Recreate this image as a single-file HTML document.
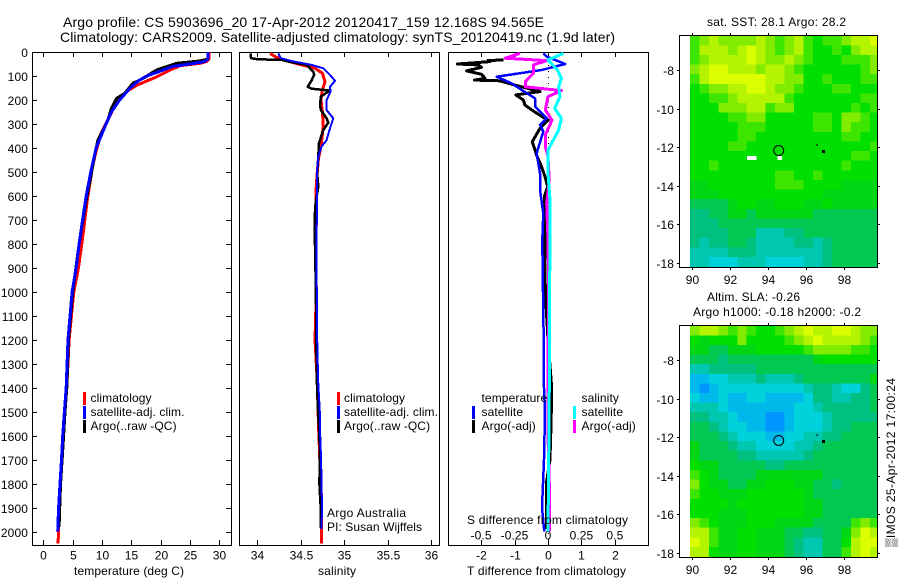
<!DOCTYPE html>
<html>
<head>
<meta charset="utf-8">
<title>Argo profile</title>
<style>
html,body{margin:0;padding:0;background:#fff;}
svg{display:block;}
text{font-family:"Liberation Sans",sans-serif;font-size:12px;fill:#000;}
.t14{font-size:14px;}
</style>
</head>
<body>
<svg id="chart" width="900" height="580" viewBox="0 0 900 580" xmlns="http://www.w3.org/2000/svg">
<rect x="0" y="0" width="900" height="580" fill="#fff"/>
<text class="t14" x="63" y="27" textLength="481" lengthAdjust="spacing">Argo profile: CS 5903696_20 17-Apr-2012 20120417_159 12.168S 94.565E</text>
<text class="t14" x="60" y="42" textLength="555" lengthAdjust="spacing">Climatology: CARS2009. Satellite-adjusted climatology: synTS_20120419.nc (1.9d later)</text>
<g id="plots"></g>
<text x="74" y="575" textLength="110" lengthAdjust="spacing">temperature (deg C)</text>
<text x="318" y="575" textLength="38" lengthAdjust="spacing">salinity</text>
<text x="467" y="575" textLength="159" lengthAdjust="spacing">T difference from climatology</text>
<text x="467" y="524" textLength="161" lengthAdjust="spacing">S difference from climatology</text>
<text x="327" y="517" textLength="79" lengthAdjust="spacing">Argo Australia</text>
<text x="327" y="531" textLength="95" lengthAdjust="spacing">PI: Susan Wijffels</text>
<text x="707" y="26" textLength="139" lengthAdjust="spacing">sat. SST: 28.1 Argo: 28.2</text>
<text x="707" y="301" textLength="93" lengthAdjust="spacing">Altim. SLA: -0.26</text>
<text x="693" y="316" textLength="168" lengthAdjust="spacing">Argo h1000: -0.18 h2000: -0.2</text>
<text transform="translate(895,547) rotate(-90)" x="0" y="0" textLength="169" lengthAdjust="spacing">▒IMOS 25-Apr-2012 17:00:24</text>
</svg>
<script>
// ---- profile data ----
const depthTicks = [0,100,200,300,400,500,600,700,800,900,1000,1100,1200,1300,1400,1500,1600,1700,1800,1900,2000];
const tempTicks = [0,5,10,15,20,25,30];
const salTicks = [34,34.5,35,35.5,36];
const salTickLabels = ['34','34.5','35','35.5','36'];
const tDiffTicks = [-2,-1,0,1,2];
const sDiffTicks = [-0.5,-0.25,0,0.25,0.5];
const sDiffTickLabels = ['-0.5','-0.25','0','0.25','0.5'];

const tempClimDepth = [0,30,40,47,57,75,104,139,160,197,253,337,405,475,617,756,900,1000,1200,1400,1500,1600,1700,1800,1900,2000,2050];
const tempClim = [28.2,28.2,27.8,26.7,23.3,21.6,19.3,15.9,14.5,12.7,11.6,9.9,9.1,8.4,7.5,6.8,6,5.2,4.4,4.0,3.7,3.4,3.2,2.95,2.75,2.6,2.5];
const tempArgoDepth = [0,30,38,47,75,110,130,150,172,193,235,284,325,367,436,520,617,800,1000,1200,1400,1500,1600,1700,1800,1860,1980];
const tempArgo = [28.1,28,26.5,22.7,19.3,17,15.3,14.6,13.9,12.5,11.6,11,10.2,9.3,8.7,8.1,7.3,6.1,5,4.3,4,3.7,3.45,3.2,2.95,2.85,2.7];
const tempSatDepth = [0,30,40,50,60,80,100,120,150,200,250,300,400,500,600,700,800,900,1000,1200,1400,1500,1600,1700,1800,1900,2000];
const tempSat = [28.1,28,27.5,25,22,19.9,17.6,16.2,14.8,13,11.6,10.7,9,8.1,7.3,6.7,6.1,5.6,4.9,4.2,3.9,3.6,3.3,3.1,2.85,2.6,2.45];

const salClimDepth = [6,19,31,50,68,89,124,158,200,249,311,395,450,520,589,672,784,1000,1200,1368,1500,1600,1700,1800,1900,2000,2050];
const salClim = [34.147,34.205,34.28,34.472,34.664,34.75,34.78,34.75,34.733,34.75,34.76,34.733,34.703,34.687,34.675,34.683,34.675,34.68,34.665,34.69,34.7,34.71,34.72,34.735,34.74,34.74,34.74];
const salArgoDepth = [6,20,26,30,33,33,40,54,82,96,124,145,153,161,186,221,242,277,295,325,381,436,506,561,631,673,784,1000,1200,1368,1500,1600,1700,1800,1900,1985];
const salArgo = [33.923,33.923,33.93,34,34.25,34.28,34.36,34.57,34.645,34.656,34.618,34.58,34.625,34.837,34.733,34.722,34.733,34.798,34.818,34.76,34.71,34.703,34.69,34.703,34.672,34.664,34.664,34.675,34.68,34.685,34.7,34.715,34.72,34.715,34.73,34.73];
const salSatDepth = [6,26,38,54,68,96,120,145,165,200,242,277,318,367,395,436,506,645,784,1000,1200,1368,1500,1600,1700,1800,1900,1990];
const salSat = [34.242,34.272,34.395,34.626,34.76,34.837,34.895,34.837,34.845,34.798,34.798,34.875,34.837,34.798,34.74,34.703,34.687,34.69,34.68,34.685,34.69,34.7,34.72,34.725,34.735,34.74,34.745,34.74];

const tDiffArgoDepth = [33,36,40,50,54,64,79,93,110,117,120,138,165,172,179,200,221,246,277,284,318,374,430,478,520,561,603,645,784,1000,1200,1400,1500,1600,1700,1800,1900,1990];
const tDiffArgo = [-1.33,-1.8,-1.73,-2.71,-2.09,-1.99,-2.43,-1.99,-1.88,-2.2,-1.44,-0.99,-0.24,-0.6,-0.96,-0.74,-0.69,-0.44,-0.09,0.01,-0.24,-0.47,-0.34,-0.19,-0.09,-0.01,-0.11,-0.09,-0.09,-0.08,0,0.11,0.1,0.08,0.06,-0.05,-0.05,-0.05];
const tDiffSatDepth = [6,19,50,75,103,131,158,193,228,277,304,332,423,506,575,673,784,1000,1200,1400,1500,1700,1800,1900,2000];
const tDiffSat = [-0.14,-0.04,0.51,-0.19,-1.53,-1.09,-0.79,-0.39,-0.39,-0.04,-0.24,-0.14,-0.34,-0.24,-0.24,-0.14,-0.17,-0.15,-0.13,-0.12,-0.09,-0.12,-0.15,-0.18,-0.11];
const sDiffArgoDepth = [6,26,36,54,89,124,145,161,186,242,284,346,395,436,534,631,784,1000,1300,1600,1800,2000];
const sDiffArgo = [-0.21,-0.32,-0.01,-0.11,-0.11,-0.17,-0.17,0.1,0,-0.02,0.03,-0.02,-0.02,0,0.01,-0.01,0,0.005,0,0,0.01,0.01];
const sDiffSatDepth = [6,33,75,110,145,186,235,277,325,409,506,617,784,1000,1400,1700,2000];
const sDiffSat = [0.115,0,0.07,0.1,0.08,0.09,0.05,0.1,0.08,0,0,0.015,0.015,0.012,0.01,0.005,0];

// ---- map data: levels on a shared colour scale, -2 = blue ... 9 = yellow ----
const sstGrid = [
[6,7,8,7,7,7,7,8,7,6,7,8,6,5,6,6,7,8,8,9],
[6,8,8,8,7,8,9,8,7,6,7,8,6,5,5,6,5,7,8,8],
[6,7,8,8,8,8,9,8,7,7,8,7,6,5,5,5,6,6,6,7],
[7,8,9,9,8,8,8,7,8,8,7,6,5,5,5,5,5,5,6,7],
[6,8,9,9,9,9,9,9,8,8,7,7,5,5,6,5,5,5,6,6],
[5,6,7,7,8,8,9,9,8,7,7,6,5,5,5,6,6,5,5,5],
[5,5,6,6,7,8,8,8,8,8,6,5,5,5,5,5,5,5,6,6],
[5,5,5,7,7,7,8,8,6,7,7,5,5,5,5,5,5,6,5,6],
[5,5,5,5,6,6,7,7,5,5,5,5,5,6,6,5,7,7,6,5],
[5,5,5,5,5,6,6,6,5,5,5,5,5,6,6,5,7,6,6,5],
[5,5,5,5,5,6,6,5,5,5,5,5,5,5,5,5,6,6,5,5],
[5,5,5,5,6,6,5,5,5,5,5,5,5,5,5,5,5,5,5,6],
[5,5,5,5,5,5,5,5,5,5,5,5,5,5,5,5,5,6,6,5],
[5,5,6,5,5,5,5,5,5,5,5,5,5,5,5,5,6,5,5,5],
[5,5,5,5,5,5,5,5,5,6,6,5,5,6,5,5,5,5,5,5],
[4,4,5,5,5,5,5,5,5,6,6,6,5,5,5,5,4,4,4,4],
[4,4,4,5,5,5,5,5,5,5,5,5,5,5,4,4,4,4,4,4],
[3,3,3,3,4,5,5,4,4,5,5,5,4,4,5,4,4,4,4,4],
[2,2,3,3,4,4,3,4,4,4,4,4,4,3,3,3,3,3,3,3],
[2,2,2,3,3,3,3,3,3,3,3,3,3,3,3,3,3,3,3,3],
[2,2,2,2,3,3,3,1,1,1,2,2,3,3,3,3,3,3,3,3],
[2,1,2,2,3,3,2,1,1,1,1,2,2,1,2,3,3,3,3,3],
[1,1,1,1,2,2,2,1,1,1,1,1,1,1,2,3,3,3,3,3],
[1,1,0,0,0,1,1,1,0,0,0,0,1,1,2,3,3,3,3,3]
];
const slaGrid = [
[7,8,8,7,6,7,6,5,5,6,7,8,9,8,8,9,9,8,7,7],
[5,4,5,5,5,7,5,5,5,5,6,7,8,9,8,8,8,8,7,6],
[4,4,3,3,4,4,4,5,5,5,5,5,6,7,7,7,7,6,6,5],
[3,3,3,2,3,3,3,3,3,3,3,3,3,4,5,5,5,5,5,5],
[1,1,2,2,2,2,2,3,3,3,3,3,3,3,3,3,3,3,3,3],
[-1,-1,0,0,1,1,1,2,1,1,1,2,3,3,3,3,3,3,3,4],
[-1,-2,-1,0,0,0,0,0,0,0,0,0,1,2,2,1,0,0,2,3],
[0,-1,-1,0,-1,-1,0,0,-1,-1,-1,-1,0,2,2,1,1,2,2,3],
[1,1,1,0,-1,-1,-1,-1,-1,-1,-1,0,0,1,2,2,2,2,2,3],
[2,2,1,1,0,-1,-1,-1,-2,-2,-1,0,0,0,1,2,2,2,2,2],
[3,3,2,1,0,0,-1,-1,-2,-2,-1,0,0,0,1,2,2,3,3,3],
[3,3,3,2,1,0,0,0,-1,-1,0,0,1,1,2,2,3,3,3,3],
[4,3,3,3,2,1,1,0,0,0,0,1,1,2,3,3,3,3,3,3],
[4,3,3,3,3,2,2,1,1,1,1,1,2,3,3,3,3,3,3,3],
[5,4,4,3,3,3,3,3,2,2,3,3,3,3,3,3,3,3,3,3],
[6,5,4,3,3,3,3,4,4,4,4,4,4,4,3,3,3,3,3,3],
[7,5,4,4,3,3,4,4,5,5,5,4,4,3,3,2,3,3,3,3],
[6,5,5,4,4,4,5,5,5,5,5,5,4,3,3,3,3,3,3,3],
[5,5,5,5,4,5,5,5,5,5,5,5,4,4,3,3,3,3,3,3],
[5,5,5,4,4,4,5,5,5,5,5,5,4,4,3,3,3,3,3,3],
[7,6,5,4,4,4,5,5,5,4,4,4,4,3,3,3,3,6,7,6],
[8,8,6,4,4,5,5,4,4,4,3,3,2,2,3,3,4,7,9,8],
[9,8,6,4,4,5,5,4,4,4,3,2,1,1,3,3,5,8,9,9],
[8,8,5,4,4,5,5,4,4,4,3,2,1,1,3,3,6,8,9,8]
];
const lonTicks = [90,92,94,96,98];
const latTicks = [-8,-10,-12,-14,-16,-18];
const argoLon = [94.565];
const argoLat = [-12.168];
const missingLon = [92.9,94.5];
const missingLat = [-12.45,-12.45];
const missingWidthDeg = [0.5,0.25];

const NS = 'http://www.w3.org/2000/svg';
const root = document.getElementById('plots');
function mk(tag, attrs, parent) {
  const el = document.createElementNS(NS, tag);
  for (const k in attrs) el.setAttribute(k, attrs[k]);
  (parent || root).appendChild(el);
  return el;
}
const yDepth = d => 52 + d * 0.2398;

function seg(x1, y1, x2, y2, name, parent) {
  const el = mk('line', {x1: x1, y1: y1, x2: x2, y2: y2, stroke: '#000', 'stroke-width': 1, 'shape-rendering': 'crispEdges'}, parent);
  
  
  return el;
}
function label(x, y, txt, anchor, name) {
  const el = mk('text', {x: x, y: y, 'text-anchor': anchor, 'letter-spacing': '0.1'});
  el.textContent = txt;
  
  
  return el;
}
function frame(x1, y1, x2, y2, name) {
  const el = mk('rect', {x: x1 + 0.5, y: y1 + 0.5, width: x2 - x1, height: y2 - y1, fill: 'none', stroke: '#000', 'stroke-width': 1, 'shape-rendering': 'crispEdges'});
  
  
}
function profile(depths, values, xf, color, width, name) {
  const pts = depths.map((d, i) => xf(values[i]).toFixed(1) + ',' + yDepth(d).toFixed(1)).join(' ');
  const el = mk('polyline', {points: pts, fill: 'none', stroke: color, 'stroke-width': width, 'stroke-linejoin': 'round', 'shape-rendering': 'crispEdges'});
  
  
}
function legendBar(x, y, color, name) {
  const el = mk('rect', {x: x, y: y - 6, width: 3, height: 13, fill: color, 'shape-rendering': 'crispEdges'});
  
  
}

// panel scales
const xTemp = t => 43.3 + t * 5.87;
const xSal = s => 257.3 + (s - 34) * 86.8;
const xTD = t => 548 + t * 33.44;
const xSD = s => 548 + s * 133.8;

frame(32, 52, 231, 545, 'temperature-panel-frame');
frame(239, 52, 439, 545, 'salinity-panel-frame');
frame(448, 52, 648, 545, 'difference-panel-frame');

depthTicks.forEach(d => {
  const y = Math.round(yDepth(d)) + 0.5;
  if (d > 0) {
    seg(32, y, 37, y, 'depth-tick-left');
    seg(226, y, 231, y, 'depth-tick-right');
  }
  label(28, y + 4.5, String(d), 'end', 'depth-tick-label');
});
tempTicks.forEach(t => {
  const x = Math.round(xTemp(t)) + 0.5;
  seg(x, 52, x, 57, 'temperature-tick-top');
  seg(x, 540, x, 545, 'temperature-tick-bottom');
  label(x, 559.5, String(t), 'middle', 'temperature-tick-label');
});
salTicks.forEach((s, i) => {
  const x = Math.round(xSal(s)) + 0.5;
  seg(x, 52, x, 57, 'salinity-tick-top');
  seg(x, 540, x, 545, 'salinity-tick-bottom');
  label(x, 559.5, salTickLabels[i], 'middle', 'salinity-tick-label');
});
tDiffTicks.forEach(t => {
  const x = Math.round(xTD(t)) + 0.5;
  seg(x, 52, x, 57, 'difference-tick-top');
  seg(x, 540, x, 545, 'difference-tick-bottom');
  label(x, 559.5, String(t), 'middle', 't-difference-tick-label');
});
sDiffTicks.forEach((s, i) => {
  label(xSD(s), 539.5, sDiffTickLabels[i], 'middle', 's-difference-tick-label');
});

// zero line
const zeroLine = mk('line', {x1: xTD(0) + 0.5, y1: 53, x2: xTD(0) + 0.5, y2: 544, stroke: '#000', 'stroke-width': 1, 'stroke-dasharray': '1 5', 'shape-rendering': 'crispEdges'});



// series
profile(tempClimDepth, tempClim, xTemp, '#ff0000', 3, 'temperature-climatology-line');
profile(tempArgoDepth, tempArgo, xTemp, '#000000', 3, 'temperature-argo-line');
profile(tempSatDepth, tempSat, xTemp, '#0000ff', 3, 'temperature-satellite-line');

profile(salClimDepth, salClim, xSal, '#ff0000', 3, 'salinity-climatology-line');
profile(salArgoDepth, salArgo, xSal, '#000000', 2.5, 'salinity-argo-line');
profile(salSatDepth, salSat, xSal, '#0000ff', 2, 'salinity-satellite-line');

profile(tDiffArgoDepth, tDiffArgo, xTD, '#000000', 3, 't-difference-argo-line');
profile(tDiffSatDepth, tDiffSat, xTD, '#0000ff', 2.5, 't-difference-satellite-line');
profile(sDiffArgoDepth, sDiffArgo, xSD, '#ff00ff', 3, 's-difference-argo-line');
profile(sDiffSatDepth, sDiffSat, xSD, '#00ffff', 3, 's-difference-satellite-line');

// legends
legendBar(83, 398, '#ff0000', 'legend-climatology-swatch');
legendBar(83, 412, '#0000ff', 'legend-satellite-swatch');
legendBar(83, 426, '#000000', 'legend-argo-swatch');
label(90.5, 402, 'climatology', 'start', 'legend-climatology');
label(90.5, 416, 'satellite-adj. clim.', 'start', 'legend-satellite');
label(90.5, 430, 'Argo(..raw -QC)', 'start', 'legend-argo');

legendBar(337, 398, '#ff0000', 'salinity-legend-climatology-swatch');
legendBar(337, 412, '#0000ff', 'salinity-legend-satellite-swatch');
legendBar(337, 426, '#000000', 'salinity-legend-argo-swatch');
label(344, 402, 'climatology', 'start', 'salinity-legend-climatology');
label(344, 416, 'satellite-adj. clim.', 'start', 'salinity-legend-satellite');
label(344, 430, 'Argo(..raw -QC)', 'start', 'salinity-legend-argo');

label(481.5, 402, 'temperature', 'start', 'legend-temperature-heading');
label(481.5, 416, 'satellite', 'start', 'legend-t-satellite');
label(481.5, 430, 'Argo(-adj)', 'start', 'legend-t-argo');
label(581.5, 402, 'salinity', 'start', 'legend-salinity-heading');
label(581.5, 416, 'satellite', 'start', 'legend-s-satellite');
label(581.5, 430, 'Argo(-adj)', 'start', 'legend-s-argo');
legendBar(472, 412, '#0000ff', 'legend-t-satellite-swatch');
legendBar(472, 426, '#000000', 'legend-t-argo-swatch');
legendBar(573, 412, '#00ffff', 'legend-s-satellite-swatch');
legendBar(573, 426, '#ff00ff', 'legend-s-argo-swatch');

// maps
const colorStops = ['#0096ff','#00b9eb','#00d2dc','#00c8b0','#00c080','#00c850','#00d614','#00e000','#3ce600','#82ec00','#b4f400','#dcff00'];
const colorOf = v => colorStops[Math.max(0, Math.min(colorStops.length - 1, v + 2))];

function drawMap(grid, top, bottom, yM8, prefix) {
  const left = 679, right = 877;
  const xLon = lon => 692.3 + (lon - 90) * 18.93;
  const yLat = lat => yM8 + (-8 - lat) * 19.24;
  const firstLon = 89.875;
  const firstLat = -6.2;
  const gridEl = mk('g', {'shape-rendering': 'crispEdges'});
  
  
  grid.forEach((row, r) => {
    row.forEach((v, c) => {
      const x1 = xLon(firstLon + c * 0.5), x2 = Math.min(right, xLon(firstLon + (c + 1) * 0.5));
      const y1 = Math.max(top, yLat(firstLat - r * 0.5)), y2 = Math.min(bottom, yLat(firstLat - (r + 1) * 0.5));
      const cell = mk('rect', {x: x1.toFixed(1), y: y1.toFixed(1), width: (x2 - x1 + 0.6).toFixed(1), height: (y2 - y1 + 0.6).toFixed(1), fill: colorOf(v)}, gridEl);
      
      
    });
  });
  if (prefix === 'sst-map') {
    missingLon.forEach((lon, i) => {
      const hole = mk('rect', {x: xLon(lon).toFixed(1), y: yLat(missingLat[i]).toFixed(1), width: (missingWidthDeg[i] * 18.93).toFixed(1), height: 4, fill: '#fff', 'shape-rendering': 'crispEdges'});
      
      
    });
  }
  frame(left, top, right, bottom, prefix + '-frame');
  lonTicks.forEach(lon => {
    const x = Math.round(xLon(lon)) + 0.5;
    seg(x, top - 2, x, top, prefix + '-lon-tick-top');
    seg(x, bottom + 1, x, bottom + 3, prefix + '-lon-tick-bottom');
    label(x, bottom + 17, String(lon), 'middle', prefix + '-lon-label');
  });
  latTicks.forEach(lat => {
    const y = Math.round(yLat(lat)) + 0.5;
    seg(left - 2, y, left, y, prefix + '-lat-tick-left');
    seg(right + 1, y, right + 3, y, prefix + '-lat-tick-right');
    label(674, y + 4.5, String(lat), 'end', prefix + '-lat-label');
  });
  const circle = mk('circle', {cx: xLon(argoLon[0]).toFixed(1), cy: yLat(argoLat[0]).toFixed(1), r: 5, fill: 'none', stroke: '#000', 'stroke-width': 1});
  
  
  const dot = mk('rect', {x: xLon(96.9) - 1, y: yLat(-12.2) - 1, width: 3, height: 3, fill: '#000', 'shape-rendering': 'crispEdges'});
  
  
  const dash = mk('rect', {x: xLon(96.6) - 1, y: yLat(-11.85), width: 2, height: 1, fill: '#000', 'shape-rendering': 'crispEdges'});
  
  
}
drawMap(sstGrid, 35, 267, 70.3, 'sst-map');
drawMap(slaGrid, 325, 557, 360.3, 'sla-map');
</script>
</body>
</html>
